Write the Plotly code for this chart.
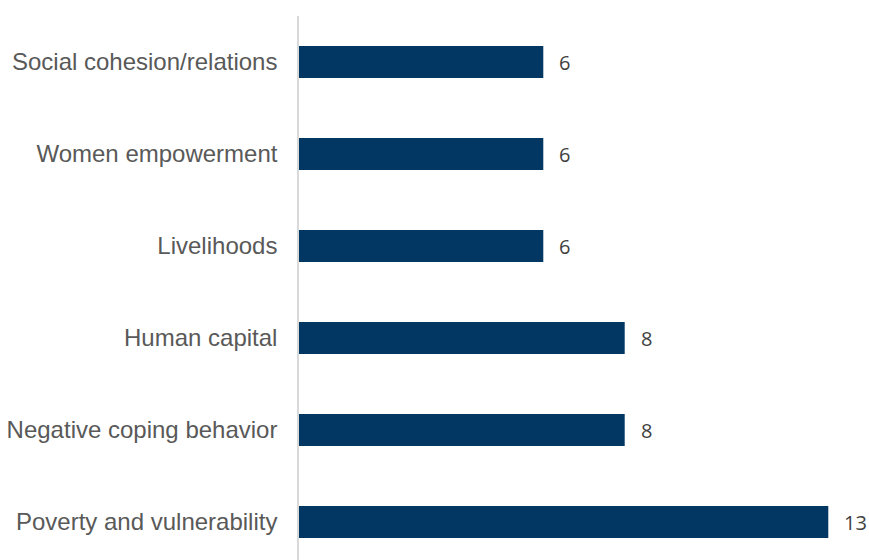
import plotly.graph_objects as go

categories = [
    "Poverty and vulnerability",
    "Negative coping behavior",
    "Human capital",
    "Livelihoods",
    "Women empowerment",
    "Social cohesion/relations",
]
counts = [13, 8, 8, 6, 6, 6]

fig = go.Figure(
    go.Bar(
        x=counts,
        y=categories,
        orientation="h",
        marker=dict(color="#023763", line=dict(width=0)),
        width=0.35,
        hoverinfo="x+y",
    )
)

# value labels to the right of each bar
for cat, val in zip(categories, counts):
    fig.add_annotation(
        x=val,
        y=cat,
        text=str(val),
        showarrow=False,
        xanchor="left",
        yanchor="middle",
        xshift=14,
        font=dict(family="Open Sans, sans-serif", size=20, color="#404040"),
    )

fig.update_layout(
    width=869,
    height=560,
    margin=dict(l=299, r=0, t=16, b=0),
    paper_bgcolor="white",
    plot_bgcolor="white",
    showlegend=False,
    xaxis=dict(
        range=[0, 14.0],
        visible=False,
        fixedrange=True,
    ),
    yaxis=dict(
        range=[-0.413, 5.5],
        showline=True,
        linecolor="#d9d9d9",
        linewidth=1.5,
        showgrid=False,
        zeroline=False,
        ticks="",
        ticklabelstandoff=15,
        tickfont=dict(family="Liberation Sans, Arial, sans-serif", size=24, color="#595959"),
    ),
)

fig.write_html("out.html")
